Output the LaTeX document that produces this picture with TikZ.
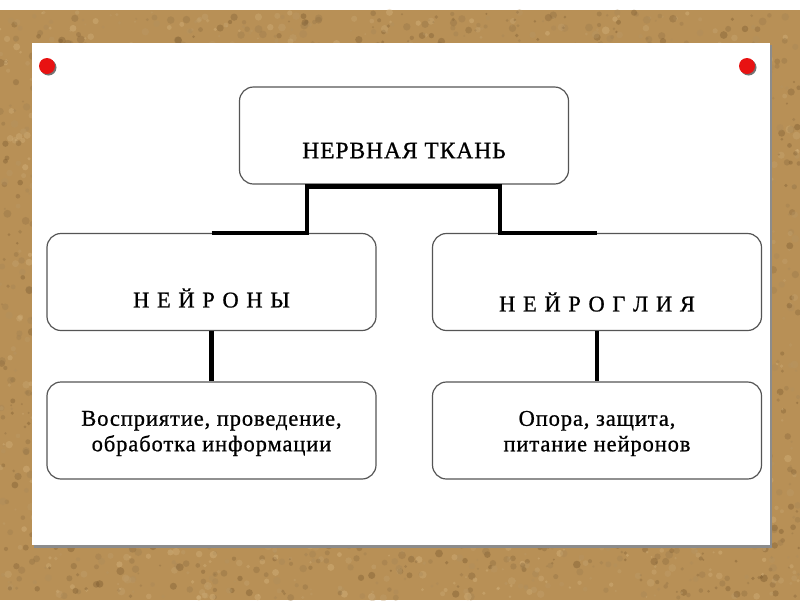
\documentclass[tikz,border=0pt]{standalone}
\usepackage{fontspec}
\setmainfont{Liberation Serif}[LetterSpace=4,FakeBold=0.8]
\usetikzlibrary{calc,positioning}
\definecolor{cork}{RGB}{184,144,86}
\definecolor{corkdark}{RGB}{112,80,40}
\definecolor{corklight}{RGB}{222,190,136}
\definecolor{pinred}{RGB}{232,18,18}
\definecolor{boxline}{RGB}{85,85,85}

\begin{document}
\begin{tikzpicture}[x=1pt,y=-1pt,
  box/.style={draw=boxline,line width=1.2pt,rounded corners=14pt,fill=white,
    minimum width=329pt,minimum height=97pt,inner sep=0pt},
  caps/.style={font=\fontsize{22.5}{25}\selectfont\addfontfeature{LetterSpace=9}},
  descr/.style={font=\fontsize{22.5}{25.5}\selectfont,align=center},
  conn/.style={line width=4.5pt,black}]
\useasboundingbox (0,0) rectangle (800,600);
% cork board
\fill[white] (0,0) rectangle (800,600);
\fill[cork] (0,10) rectangle (800,600);
\pgfmathsetseed{7}
\foreach \i in {1,...,4500}{
  \pgfmathsetmacro{\px}{800*rnd}
  \pgfmathsetmacro{\py}{12+586*rnd}
  \pgfmathsetmacro{\pr}{1+3*rnd}
  \pgfmathsetmacro{\pm}{100*rnd}
  \fill[corkdark!\pm!corklight,opacity=0.35] (\px,\py) circle (\pr pt);
}
% paper
\fill[black!45] (34,45) rectangle (772,548);
\fill[white] (32,43) rectangle (770,545);
% pins
\fill[black!55] (48.5,67.5) circle (8pt);
\fill[pinred] (47,66) circle (8pt);
\fill[black!55] (748.5,67.5) circle (8pt);
\fill[pinred] (747,66) circle (8pt);

\node[box] (tissue) at (404,135.5) {};
\node[box] (neur) at (211.5,282) {};
\node[box] (glia) at (597,282) {};
\node[box] (neurfn) at (211.5,430.5) {};
\node[box] (gliafn) at (597,430.5) {};

\node[font=\fontsize{23.5}{25}\selectfont] (tissuetxt) at ($(tissue.center)+(0,15)$) {НЕРВНАЯ ТКАНЬ};
\node[caps] (neurtxt) at ($(neur.center)+(0,16)$) {Н Е Й Р О Н Ы};
\node[caps] (gliatxt) at ($(glia.center)+(0,20)$) {Н Е Й Р О Г Л И Я};
\node[descr] (neurfntxt) at ($(neurfn.center)+(0,3)$) {Восприятие, проведение,\\обработка информации};
\node[descr] (gliafntxt) at ($(gliafn.center)+(0,3)$) {Опора, защита,\\питание нейронов};

\draw[conn] (neur.north) -| ($(tissue.south)+(-97,2)$) -- ($(tissue.south)+(96,2)$) |- (glia.north);
\draw[conn] (neur.south) -- (neurfn.north);
\draw[conn] (glia.south) -- (gliafn.north);
\end{tikzpicture}
\end{document}
